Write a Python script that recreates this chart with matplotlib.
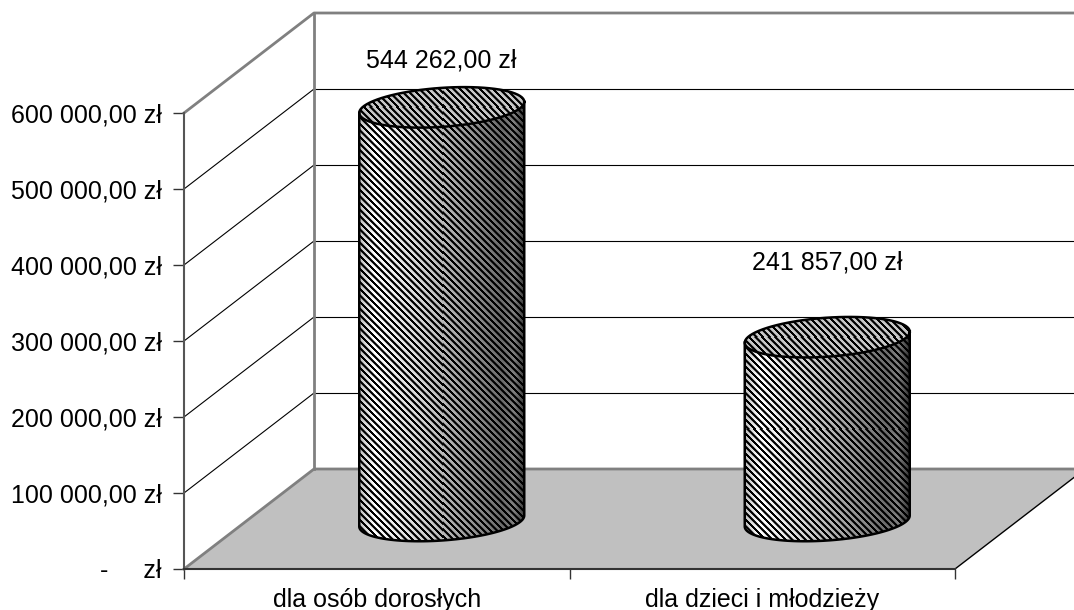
import numpy as np
import matplotlib
matplotlib.use('Agg')
import matplotlib.pyplot as plt
from matplotlib.path import Path

plt.rcParams['font.family'] = ['Liberation Sans', 'DejaVu Sans']

categories = ['dla osób dorosłych', 'dla dzieci i młodzieży']
values = [544262, 241857]
value_labels = ['544 262,00 zł', '241 857,00 zł']
y_ticks = [0, 100000, 200000, 300000, 400000, 500000, 600000]
y_tick_labels = ['-     zł', '100 000,00 zł', '200 000,00 zł', '300 000,00 zł',
                 '400 000,00 zł', '500 000,00 zł', '600 000,00 zł']

fig = plt.figure(figsize=(10.74, 6.10), dpi=100, facecolor='white')
ax = fig.add_axes([184/1074, (610-569)/610, 771/1074, 456/610])
ax.patch.set_visible(False)

# one pixel in data units
px = 2/771.0
py = 600000/456.0
depth_x = 130*px
depth_y = 100*py

# floor
ax.fill([0, 2, 2+depth_x, depth_x], [0, 0, depth_y, depth_y], color='#c0c0c0', lw=0, zorder=1, clip_on=False)
ax.plot([2, 2+depth_x], [0, depth_y], color='black', lw=1, zorder=2, clip_on=False)

# walls and gridlines
for t in y_ticks[1:-1]:
	ax.plot([0, depth_x], [t, t+depth_y], color='black', lw=0.8, zorder=2, clip_on=False)
	ax.plot([depth_x, 2+depth_x], [t+depth_y, t+depth_y], color='black', lw=0.8, zorder=2, clip_on=False)
grey = '#808080'
ax.plot([0, depth_x, 2+depth_x], [600000, 600000+depth_y, 600000+depth_y], color=grey, lw=2, zorder=2, clip_on=False)
ax.plot([depth_x, depth_x], [depth_y, 600000+depth_y], color=grey, lw=2, zorder=2, clip_on=False)
ax.plot([0, depth_x, 2+depth_x], [0, depth_y, depth_y], color=grey, lw=2, zorder=2, clip_on=False)


def stripes(w, h, tone):
	# black diagonal stripes over a background tone
	cols, rows = np.meshgrid(np.arange(w), np.arange(h))
	wave = 0.5 + 0.5*np.cos(2*np.pi*(cols-rows)/6.6)
	mask = np.clip((wave-0.45)*3+0.5, 0, 1)
	return tone*mask


def ellipse(cx, cv, start, stop):
	t = np.linspace(start, stop, 80)
	x = cx + 82.5*px*np.cos(t)
	v = cv + (5.5*py)*np.cos(t) + (19.5*py)*np.sin(t)
	return x, v


def place_image(data, left, low, w, h, clip, zorder):
	# snapped to whole pixels so the stripes stay even
	left = round(left/px)*px
	low = round(low/py)*py
	im = ax.imshow(data, cmap='gray', vmin=0, vmax=1, aspect='auto', interpolation='nearest',
		extent=(left, left+w*px, low, low+h*py), zorder=zorder)
	im.set_clip_box(fig.bbox)
	im.set_clip_path(clip, transform=ax.transData)


def cylinder(cx, value):
	base = 63158
	top = base + value
	w, h = 170, int(value/py) + 60

	# body
	bx, bv = ellipse(cx, base, np.pi, 2*np.pi)
	tx, tv = ellipse(cx, top, 0, np.pi)
	body = Path(np.column_stack([np.r_[bx, tx[0], tx[-1], bx[0]], np.r_[bv, top+5.5*py, top-5.5*py, bv[0]]]))
	frac = np.linspace(0, 1, w)
	grad = np.interp(frac, [0, 0.1, 0.35, 0.65, 0.85, 0.92, 1], [0.7, 1, 0.85, 0.6, 0.42, 0.5, 0.15])
	place_image(stripes(w, h, np.tile(grad, (h, 1))), cx-85*px, base-30*py, w, h, body, 3)

	# lid
	lx, lv = ellipse(cx, top, 0, 2*np.pi)
	lid = Path(np.column_stack([lx, lv]))
	place_image(stripes(w, 60, np.full((60, w), 0.78)), cx-85*px, top-30*py, w, 60, lid, 4)

	# outlines
	ax.plot(lx, lv, color='black', lw=1.8, zorder=5, clip_on=False)
	ax.plot(np.r_[tx[-1], bx, tx[0]], np.r_[top-5.5*py, bv, top+5.5*py], color='black', lw=1.8, zorder=5, clip_on=False)


centers = [0.5+depth_x/2, 1.5+depth_x/2]
label_up = [47, 75]
for i in range(len(values)):
	cylinder(centers[i], values[i])
	ax.text(centers[i], values[i]+63158+label_up[i]*py, value_labels[i], ha='center', va='center', fontsize=18, zorder=6)

ax.set_xlim(0, 2)
ax.set_ylim(0, 600000)

for s in ['top', 'right']:
	ax.spines[s].set_visible(False)
ax.spines['left'].set_color('#555555')
ax.spines['left'].set_linewidth(1.5)
ax.spines['bottom'].set_color('#333333')
ax.spines['bottom'].set_linewidth(1.5)
ax.spines['left'].set_zorder(2.5)
ax.spines['bottom'].set_zorder(2.5)

ax.set_yticks(y_ticks)
ax.set_yticklabels(y_tick_labels, fontsize=18)
ax.tick_params(axis='y', length=8, width=1, pad=8, color='#333333')
ax.set_xticks([0, 1, 2])
ax.set_xticklabels(['', '', ''])
ax.set_xticks([0.5, 1.5], minor=True)
ax.set_xticklabels(categories, minor=True, fontsize=18)
ax.tick_params(axis='x', which='major', length=7, width=1, color='#333333')
ax.tick_params(axis='x', which='minor', length=0, pad=13.5)

fig.savefig('out.png', dpi=100, facecolor='white')
